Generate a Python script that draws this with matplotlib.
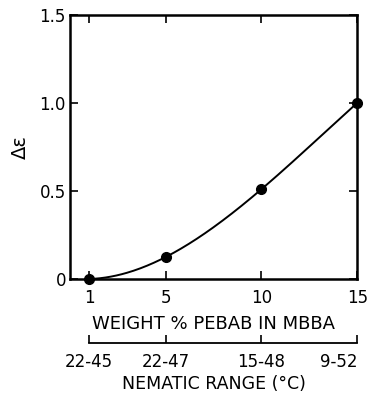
import matplotlib
matplotlib.use("Agg")
import matplotlib.pyplot as plt
import numpy as np

plt.rcParams['font.family'] = ['DejaVu Sans']

weight_pct = [1, 5, 10, 15]
delta_eps = [0.0, 0.125, 0.51, 1.0]
nematic_range = ['22-45', '22-47', '15-48', '9-52']

fig = plt.figure(figsize=(3.69, 3.96), dpi=100)
ax = fig.add_axes([0.19, 0.2955, 0.778, 0.667])

# smooth curve through the measured points
coef = np.polyfit(weight_pct, delta_eps, 3)
xs = np.linspace(weight_pct[0], weight_pct[-1], 200)
ax.plot(xs, np.polyval(coef, xs), color='black', lw=1.4)
ax.plot(weight_pct, delta_eps, 'o', color='black', ms=7, clip_on=False)

ax.set_xlim(0, 15)
ax.set_ylim(0, 1.5)
ax.set_xticks(weight_pct)
ax.set_xticklabels(['1', '5', '10', '15'])
ax.set_yticks([0, 0.5, 1.0, 1.5])
ax.set_yticklabels(['0', '0.5', '1.0', '1.5'])
for s in ax.spines.values():
    s.set_linewidth(1.8)
ax.tick_params(axis='both', direction='in', top=True, right=True,
               length=6, width=1.2, labelsize=12)
ax.tick_params(axis='x', pad=7)
ax.tick_params(axis='y', pad=3)
ax.set_xlabel('WEIGHT % PEBAB IN MBBA', fontsize=13, labelpad=6)
ax.set_ylabel('Δε', fontsize=14, labelpad=7)

# second scale: nematic range
ax2 = fig.add_axes([0.19, 0.134, 0.778, 0.0001])
ax2.set_xlim(0, 15)
for k in ['top', 'left', 'right']:
    ax2.spines[k].set_visible(False)
ax2.spines['bottom'].set_bounds(1, 15)
ax2.spines['bottom'].set_linewidth(1.3)
ax2.set_yticks([])
ax2.set_xticks(weight_pct)
ax2.set_xticklabels(nematic_range)
ax2.tick_params(axis='x', direction='in', length=6, width=1.2,
                labelsize=12, pad=7)
ax2.get_xticklabels()[-1].set_ha('right')
ax2.set_xlabel('NEMATIC RANGE (°C)', fontsize=12.5, labelpad=3)

fig.savefig('out.png', dpi=100)
